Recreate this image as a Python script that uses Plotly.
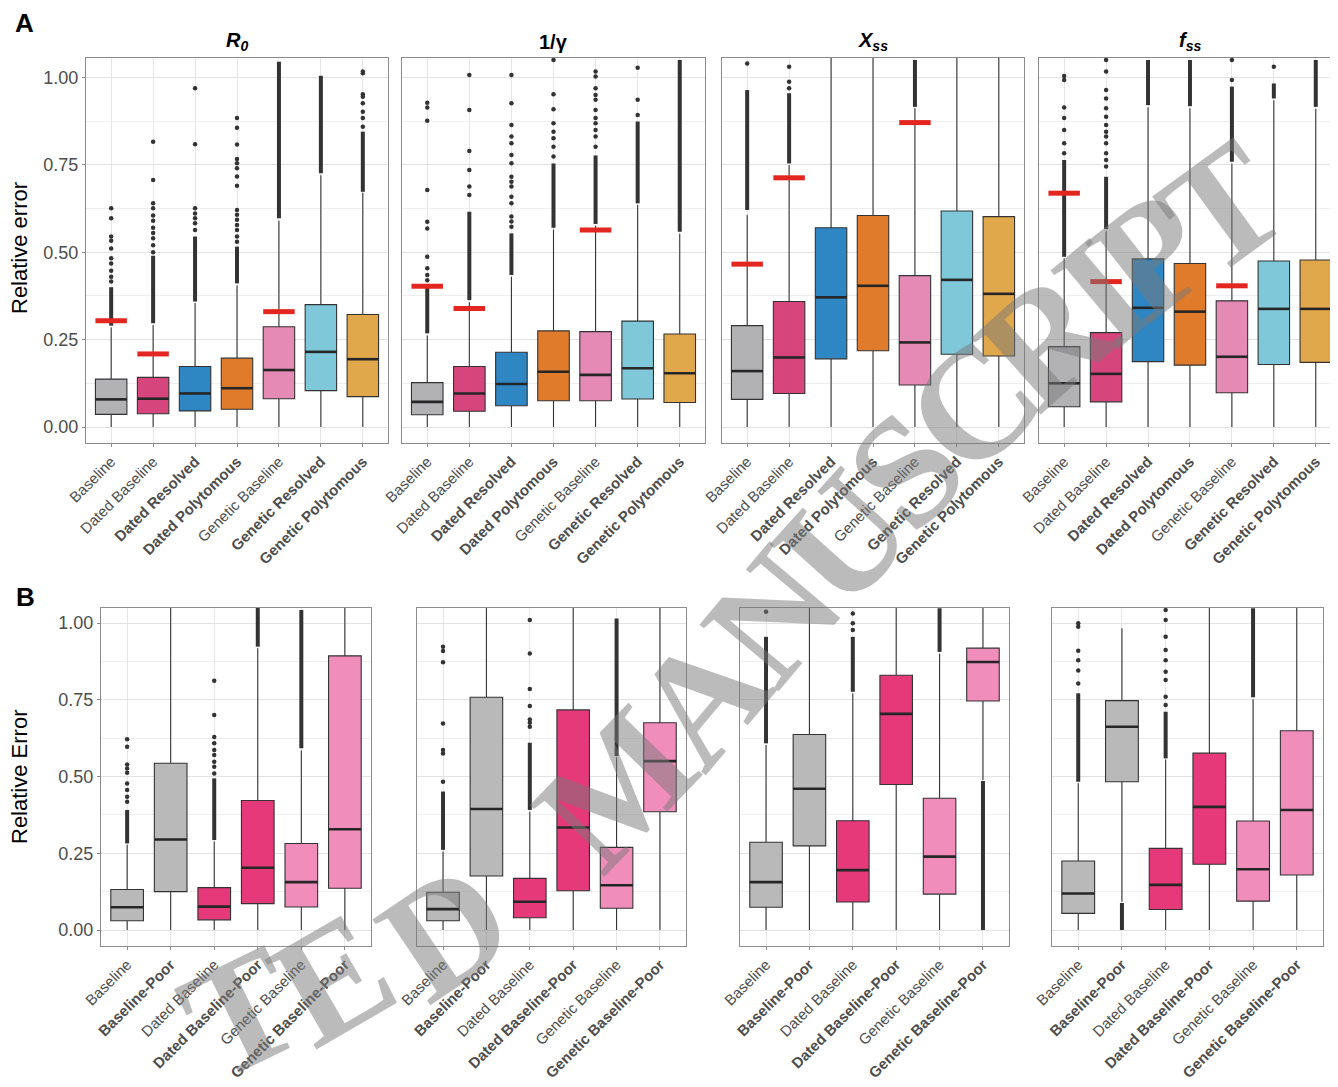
import plotly.graph_objects as go

# ---------------- categories / styling lists ----------------
A_CATS = ["Baseline", "Dated Baseline", "Dated Resolved", "Dated Polytomous",
          "Genetic Baseline", "Genetic Resolved", "Genetic Polytomous"]
A_BOLD = [False, False, True, True, False, True, True]
A_COLORS = ["#b2b2b5", "#d6467c", "#2e87c3", "#e07b2b", "#e48ab5", "#7ec8d9", "#e1a84b"]

B_CATS = ["Baseline", "Baseline-Poor", "Dated Baseline", "Dated Baseline-Poor",
          "Genetic Baseline", "Genetic Baseline-Poor"]
B_BOLD = [False, True, False, True, False, True]
B_COLORS = ["#b9b9b9", "#b9b9b9", "#e5397a", "#e5397a", "#f08dbb", "#f08dbb"]

PARAM_TITLES = ["<b><i>R</i></b><sub><b><i>0</i></b></sub>", "<b>1/γ</b>",
                "<b><i>X</i></b><sub><b><i>ss</i></b></sub>",
                "<b><i>f</i></b><sub><b><i>ss</i></b></sub>"]

# watermark letters (page pixel centre x, y, rotation)
WM_TEXT = ["T", "E", "D", "M", "A", "N", "U", "S", "C", "R", "I", "P", "T"]
WM_X = [240, 332, 445, 615, 700, 772, 842, 906, 972, 1045, 1102, 1152, 1222]
WM_Y = [1012, 978, 930, 788, 698, 615, 538, 470, 405, 338, 292, 255, 208]
WM_ROT = [-26, -30, -34, -46, -50, -50, -48, -46, -44, -42, -40, -38, -36]

# ---------------- Panel A: R0 ----------------
A_R0_Q1 = [0.036, 0.038, 0.046, 0.051, 0.081, 0.104, 0.087]
A_R0_MED = [0.079, 0.081, 0.096, 0.111, 0.163, 0.215, 0.194]
A_R0_Q3 = [0.137, 0.142, 0.173, 0.197, 0.287, 0.350, 0.322]
A_R0_LOW = [0, 0, 0, 0, 0, 0, 0]
A_R0_HIGH = [0.285, 0.292, 0.355, 0.405, 0.590, 0.720, 0.670]
A_R0_BAND = [[0.29, 0.40], [0.297, 0.49], [0.359, 0.545], [0.411, 0.516],
             [0.597, 1.045], [0.726, 1.005], [0.673, 0.845]]
A_R0_OUT = [[0.416, 0.43, 0.447, 0.468, 0.483, 0.511, 0.533, 0.545, 0.597, 0.626],
            [0.50, 0.52, 0.54, 0.555, 0.57, 0.59, 0.605, 0.626, 0.64, 0.707, 0.816],
            [0.564, 0.583, 0.597, 0.611, 0.626, 0.809, 0.969],
            [0.530, 0.545, 0.564, 0.578, 0.593, 0.607, 0.621, 0.690, 0.717, 0.740,
             0.755, 0.767, 0.808, 0.856, 0.884],
            [],
            [],
            [0.859, 0.884, 0.902, 0.926, 0.945, 0.952, 1.012, 1.017]]
A_R0_REF = [0.304, 0.209, None, None, 0.330, None, None]

# ---------------- Panel A: 1/gamma ----------------
A_G_Q1 = [0.035, 0.045, 0.061, 0.075, 0.075, 0.080, 0.070]
A_G_MED = [0.072, 0.096, 0.123, 0.158, 0.149, 0.168, 0.154]
A_G_Q3 = [0.127, 0.173, 0.214, 0.275, 0.273, 0.303, 0.266]
A_G_LOW = [0, 0, 0, 0, 0, 0, 0]
A_G_HIGH = [0.262, 0.357, 0.430, 0.565, 0.576, 0.635, 0.553]
A_G_BAND = [[0.268, 0.406], [0.363, 0.616], [0.435, 0.554], [0.570, 0.754],
            [0.581, 0.777], [0.640, 0.874], [0.559, 1.05]]
A_G_OUT = [[0.420, 0.435, 0.454, 0.487, 0.568, 0.587, 0.678, 0.876, 0.914, 0.928],
           [0.664, 0.688, 0.735, 0.790, 0.907, 1.007],
           [0.573, 0.588, 0.602, 0.640, 0.659, 0.688, 0.702, 0.716, 0.755, 0.778,
            0.812, 0.831, 0.864, 0.926, 1.007],
           [0.774, 0.802, 0.826, 0.845, 0.869, 0.909, 0.952, 1.05],
           [0.802, 0.831, 0.850, 0.869, 0.884, 0.907, 0.936, 0.950, 0.969, 1.003, 1.017],
           [0.893, 0.936, 1.028],
           []]
A_G_REF = [0.403, 0.339, None, None, 0.564, None, None]

# ---------------- Panel A: Xss ----------------
A_X_Q1 = [0.079, 0.096, 0.195, 0.218, 0.120, 0.208, 0.203]
A_X_MED = [0.160, 0.199, 0.371, 0.404, 0.242, 0.421, 0.381]
A_X_Q3 = [0.290, 0.359, 0.570, 0.605, 0.433, 0.618, 0.602]
A_X_LOW = [0, 0, 0, 0, 0, 0, 0]
A_X_HIGH = [0.607, 0.750, 1.2, 1.2, 0.912, 1.2, 1.2]
A_X_BAND = [[0.621, 0.964], [0.754, 0.955], None, None, [0.916, 1.05], None, None]
A_X_OUT = [[1.040], [0.969, 0.988, 1.031], [], [], [], [], []]
A_X_REF = [0.466, 0.713, None, None, 0.871, None, None]

# ---------------- Panel A: fss ----------------
A_F_Q1 = [0.058, 0.072, 0.187, 0.177, 0.098, 0.179, 0.185]
A_F_MED = [0.125, 0.152, 0.341, 0.330, 0.201, 0.338, 0.338]
A_F_Q3 = [0.230, 0.270, 0.481, 0.468, 0.361, 0.475, 0.478]
A_F_LOW = [0, 0, 0, 0, 0, 0, 0]
A_F_HIGH = [0.482, 0.560, 0.915, 0.912, 0.754, 0.935, 0.910]
A_F_BAND = [[0.487, 0.764], [0.566, 0.716], [0.921, 1.05], [0.918, 1.05],
            [0.759, 0.974], [0.940, 0.983], [0.916, 1.05]]
A_F_OUT = [[0.783, 0.812, 0.850, 0.884, 0.914, 0.993, 1.004],
           [0.745, 0.764, 0.783, 0.812, 0.831, 0.845, 0.864, 0.888, 0.912, 0.940,
            0.964, 1.017, 1.050],
           [], [], [0.993, 1.05], [1.031], []]
A_F_REF = [0.669, 0.416, None, None, 0.404, None, None]

# ---------------- Panel B: R0 ----------------
B_R0_Q1 = [0.030, 0.125, 0.033, 0.086, 0.075, 0.136]
B_R0_MED = [0.074, 0.295, 0.076, 0.203, 0.156, 0.328]
B_R0_Q3 = [0.132, 0.543, 0.138, 0.422, 0.282, 0.893]
B_R0_LOW = [0, 0, 0, 0, 0, 0]
B_R0_HIGH = [0.278, 1.2, 0.288, 0.918, 0.585, 1.2]
B_R0_BAND = [[0.282, 0.391], None, [0.293, 0.494], [0.923, 1.05], [0.592, 1.042], None]
B_R0_OUT = [[0.418, 0.434, 0.456, 0.477, 0.512, 0.526, 0.539, 0.597, 0.621], [],
            [0.510, 0.532, 0.548, 0.570, 0.586, 0.608, 0.629, 0.700, 0.812], [], [], []]

# ---------------- Panel B: 1/gamma ----------------
B_G_Q1 = [0.030, 0.176, 0.040, 0.128, 0.071, 0.385]
B_G_MED = [0.068, 0.394, 0.092, 0.334, 0.146, 0.550]
B_G_Q3 = [0.123, 0.758, 0.168, 0.717, 0.269, 0.675]
B_G_LOW = [0, 0, 0, 0, 0, 0]
B_G_HIGH = [0.256, 1.2, 0.385, 1.2, 0.562, 1.2]
B_G_BAND = [[0.261, 0.451], None, [0.391, 0.610], None, [0.567, 1.015], None]
B_G_OUT = [[0.483, 0.575, 0.586, 0.673, 0.872, 0.909, 0.923], [],
           [0.662, 0.675, 0.686, 0.730, 0.785, 0.901, 1.010], [], [], []]

# ---------------- Panel B: Xss ----------------
B_X_Q1 = [0.074, 0.274, 0.091, 0.474, 0.117, 0.746]
B_X_MED = [0.156, 0.460, 0.195, 0.704, 0.239, 0.873]
B_X_Q3 = [0.286, 0.637, 0.356, 0.830, 0.429, 0.918]
B_X_LOW = [0, 0, 0, 0, 0, 0.489]
B_X_HIGH = [0.603, 1.2, 0.770, 1.2, 0.900, 1.2]
B_X_BAND = [[0.608, 0.955], None, [0.776, 0.955], None, [0.906, 1.048], [0.0, 0.485]]
B_X_OUT = [[1.037], [], [0.977, 0.999, 1.031], [], [], []]

# ---------------- Panel B: fss ----------------
B_F_Q1 = [0.054, 0.483, 0.067, 0.214, 0.094, 0.179]
B_F_MED = [0.119, 0.662, 0.147, 0.401, 0.198, 0.391]
B_F_Q3 = [0.225, 0.747, 0.266, 0.576, 0.355, 0.649]
B_F_LOW = [0, 0.092, 0, 0, 0, 0]
B_F_HIGH = [0.478, 0.983, 0.555, 1.2, 0.752, 1.2]
B_F_BAND = [[0.483, 0.771], [0.0, 0.088], [0.559, 0.711], None, [0.758, 1.048], None]
B_F_OUT = [[0.803, 0.845, 0.879, 0.910, 0.988, 0.999], [],
           [0.733, 0.760, 0.814, 0.841, 0.879, 0.912, 0.955, 1.010, 1.042], [], [], []]

Y_TICKS = [0, 0.25, 0.5, 0.75, 1.0]

# ---------------- layout geometry ----------------
PAGE_W, PAGE_H = 1338, 1087
OFF = 8                       # default page margin around the plot div
W, H = PAGE_W - OFF, PAGE_H - OFF
BOX_W = 0.75
FONT = "Liberation Sans, Arial, Helvetica, sans-serif"
TICK_GREY = "#4d4d4d"

fig = go.Figure()
layout = dict(width=W, height=H, margin=dict(l=0, r=0, t=0, b=0, autoexpand=False),
              paper_bgcolor="white", plot_bgcolor="white", showlegend=False,
              font=dict(family=FONT), annotations=[])


def px_x(p):
    return (p - OFF) / W


def px_y(p):
    return 1 - (p - OFF) / H


YR = {}


def add_panel(idx, cats, bold, colors, q1, med, q3, low, high, band, out, ref,
              xpix, ypix, xrange, show_y):
    xa = "x" if idx == 1 else "x%d" % idx
    ya = "y" if idx == 1 else "y%d" % idx
    n = len(cats)
    for i in range(n):
        fig.add_trace(go.Box(
            x=[i], q1=[q1[i]], median=[med[i]], q3=[q3[i]],
            lowerfence=[low[i]], upperfence=[high[i]], width=BOX_W,
            fillcolor=colors[i], line=dict(color="#333333", width=1.1),
            whiskerwidth=0, boxpoints=False, xaxis=xa, yaxis=ya,
            hoverinfo="skip", showlegend=False))
    mx, my = [], []
    for i in range(n):
        mx += [i - BOX_W / 2, i + BOX_W / 2, None]
        my += [med[i], med[i], None]
    fig.add_trace(go.Scatter(x=mx, y=my, mode="lines", xaxis=xa, yaxis=ya,
                             line=dict(color="#262626", width=2.6),
                             hoverinfo="skip", showlegend=False))
    bx, by = [], []
    for i in range(n):
        if band[i] is not None:
            bx += [i, i, None]
            by += [band[i][0], band[i][1], None]
    if bx:
        fig.add_trace(go.Scatter(x=bx, y=by, mode="lines", xaxis=xa, yaxis=ya,
                                 line=dict(color="#333333", width=4),
                                 hoverinfo="skip", showlegend=False))
    ox, oy = [], []
    for i in range(n):
        for v in out[i]:
            ox.append(i)
            oy.append(v)
    if ox:
        fig.add_trace(go.Scatter(x=ox, y=oy, mode="markers", xaxis=xa, yaxis=ya,
                                 marker=dict(color="#333333", size=4.5),
                                 hoverinfo="skip", showlegend=False))
    if ref is not None:
        rx, ry = [], []
        for i in range(n):
            if ref[i] is not None:
                rx += [i - BOX_W / 2, i + BOX_W / 2, None]
                ry += [ref[i], ref[i], None]
        fig.add_trace(go.Scatter(x=rx, y=ry, mode="lines", xaxis=xa, yaxis=ya,
                                 line=dict(color="#e3261f", width=5),
                                 hoverinfo="skip", showlegend=False))

    ticktext = ["<b>%s</b>" % c if b else c for c, b in zip(cats, bold)]
    layout["xaxis" if idx == 1 else "xaxis%d" % idx] = dict(
        domain=[px_x(xpix[0]), min(1.0, px_x(xpix[1]))], range=xrange, anchor=ya,
        automargin=False,
        tickmode="array", tickvals=list(range(n)), ticktext=ticktext,
        tickangle=-45, tickfont=dict(size=15, color=TICK_GREY, family=FONT),
        showgrid=True, gridcolor="#e6e6e6", gridwidth=1, zeroline=False,
        showline=True, mirror=True, linecolor="#8c8c8c", linewidth=1,
        ticks="outside", ticklen=3, tickcolor="#8c8c8c", fixedrange=True)
    layout["yaxis" if idx == 1 else "yaxis%d" % idx] = dict(
        domain=[px_y(ypix[1]), px_y(ypix[0])], range=YR[ypix], anchor=xa,
        automargin=False,
        tickmode="array", tickvals=Y_TICKS, ticktext=["%.2f" % v for v in Y_TICKS],
        showticklabels=show_y, tickfont=dict(size=18, color=TICK_GREY, family=FONT),
        showgrid=True, gridcolor="#e3e3e3", gridwidth=1, zeroline=False,
        minor=dict(tickvals=[0.125, 0.375, 0.625, 0.875], showgrid=True,
                   gridcolor="#efefef", gridwidth=1, ticks=""),
        showline=True, mirror=True, linecolor="#8c8c8c", linewidth=1,
        ticks="outside" if show_y else "", ticklen=3, tickcolor="#8c8c8c",
        fixedrange=True)


# row A: value 0 at y=427 px, 1 at 77.5 px ; frame 58..443
A_Y = (58, 443)
YR[A_Y] = [-(443 - 427) / 349.5, (427 - 58) / 349.5]
# row B: value 0 at y=930 px, 1 at 623 px ; frame 608..946
B_Y = (608, 946)
YR[B_Y] = [-(946 - 930) / 307.0, (930 - 608) / 307.0]

A_X = [(86, 388), (402, 705), (722, 1024), (1039, 1338)]
B_X = [(101, 371), (417, 686), (740, 1009), (1052, 1323)]
A_XR = [[-0.6, 6.6], [-0.6, 6.6], [-0.6, 6.6], [-0.6, 6.53]]
B_XR = [-0.6, 5.6]

A_DATA = [
    (A_R0_Q1, A_R0_MED, A_R0_Q3, A_R0_LOW, A_R0_HIGH, A_R0_BAND, A_R0_OUT, A_R0_REF),
    (A_G_Q1, A_G_MED, A_G_Q3, A_G_LOW, A_G_HIGH, A_G_BAND, A_G_OUT, A_G_REF),
    (A_X_Q1, A_X_MED, A_X_Q3, A_X_LOW, A_X_HIGH, A_X_BAND, A_X_OUT, A_X_REF),
    (A_F_Q1, A_F_MED, A_F_Q3, A_F_LOW, A_F_HIGH, A_F_BAND, A_F_OUT, A_F_REF),
]
B_DATA = [
    (B_R0_Q1, B_R0_MED, B_R0_Q3, B_R0_LOW, B_R0_HIGH, B_R0_BAND, B_R0_OUT),
    (B_G_Q1, B_G_MED, B_G_Q3, B_G_LOW, B_G_HIGH, B_G_BAND, B_G_OUT),
    (B_X_Q1, B_X_MED, B_X_Q3, B_X_LOW, B_X_HIGH, B_X_BAND, B_X_OUT),
    (B_F_Q1, B_F_MED, B_F_Q3, B_F_LOW, B_F_HIGH, B_F_BAND, B_F_OUT),
]

for k in range(4):
    q1, md, q3, lo, hi, bd, ot, rf = A_DATA[k]
    add_panel(k + 1, A_CATS, A_BOLD, A_COLORS, q1, md, q3, lo, hi, bd, ot, rf,
              A_X[k], A_Y, A_XR[k], k == 0)
for k in range(4):
    q1, md, q3, lo, hi, bd, ot = B_DATA[k]
    add_panel(k + 5, B_CATS, B_BOLD, B_COLORS, q1, md, q3, lo, hi, bd, ot, None,
              B_X[k], B_Y, B_XR, k == 0)

ann = layout["annotations"]
for k in range(4):
    cx = A_X[k][0] + 151
    ann.append(dict(text=PARAM_TITLES[k], x=px_x(cx), y=px_y(42), xref="paper",
                    yref="paper", showarrow=False, xanchor="center", yanchor="middle",
                    font=dict(size=20, color="black", family=FONT)))
ann.append(dict(text="<b>A</b>", x=px_x(13), y=px_y(23), xref="paper", yref="paper",
                showarrow=False, xanchor="left", yanchor="middle",
                font=dict(size=26, color="black", family=FONT)))
ann.append(dict(text="<b>B</b>", x=px_x(14), y=px_y(597), xref="paper", yref="paper",
                showarrow=False, xanchor="left", yanchor="middle",
                font=dict(size=26, color="black", family=FONT)))
ann.append(dict(text="Relative error", x=px_x(19), y=px_y(248), xref="paper",
                yref="paper", showarrow=False, textangle=-90, xanchor="center",
                yanchor="middle", font=dict(size=22, color="black", family=FONT)))
ann.append(dict(text="Relative Error", x=px_x(19), y=px_y(777), xref="paper",
                yref="paper", showarrow=False, textangle=-90, xanchor="center",
                yanchor="middle", font=dict(size=22, color="black", family=FONT)))

# "ACCEPTED MANUSCRIPT" watermark (visible part), semi-transparent grey serif
for t, x, y, r in zip(WM_TEXT, WM_X, WM_Y, WM_ROT):
    ann.append(dict(text="<b>%s</b>" % t, x=px_x(x), y=px_y(y), xref="paper",
                    yref="paper", showarrow=False, textangle=r, xanchor="center",
                    yanchor="middle", opacity=0.5,
                    font=dict(size=158, color="#7a7a7a",
                              family="Liberation Serif, Times New Roman, serif")))

fig.update_layout(**layout)
fig.write_html("out.html")
